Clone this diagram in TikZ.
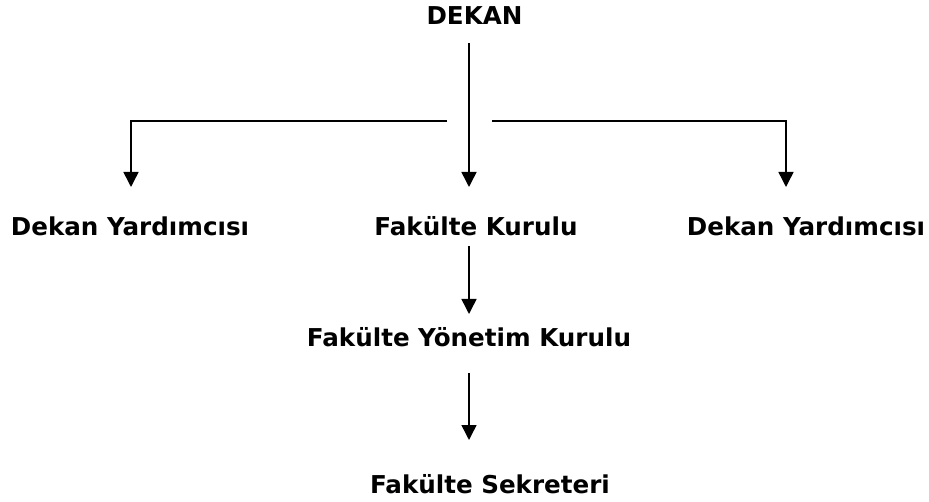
\documentclass[tikz,border=0pt]{standalone}
\usepackage{fontspec}
\setmainfont{DejaVu Sans}
\usetikzlibrary{arrows.meta}
\begin{document}
\begin{tikzpicture}[x=1pt,y=-1pt,
  lbl/.style={anchor=base,inner sep=0pt,font=\bfseries\fontsize{24.6}{28}\selectfont},
  conn/.style={line width=1.5pt},
  arr/.style={conn,-{Triangle[length=15pt,width=15pt]}}]
\useasboundingbox (0,0) rectangle (929,502);
\node[lbl] (dekan) at (474.5,25) {DEKAN};
\node[lbl] (dy1) at (130,236) {Dekan Yardımcısı};
\node[lbl] (fk) at (476,236) {Fakülte Kurulu};
\node[lbl] (dy2) at (806,236) {Dekan Yardımcısı};
\node[lbl] (fyk) at (469,347) {Fakülte Yönetim Kurulu};
\node[lbl] (fs) at (490,493) {Fakülte Sekreteri};
% connector points
\coordinate (c0) at (469,43);
\coordinate (c1) at (469,187);
\coordinate (l0) at (447,121);
\coordinate (l1) at (131,121);
\coordinate (l2) at (131,187);
\coordinate (r0) at (492,121);
\coordinate (r1) at (786,121);
\coordinate (r2) at (786,187);
\coordinate (m0) at (469,246);
\coordinate (m1) at (469,314);
\coordinate (s0) at (469,373);
\coordinate (s1) at (469,440);
\draw[arr] (c0) -- (c1);
\draw[arr] (l0) -- (l1) -- (l2);
\draw[arr] (r0) -- (r1) -- (r2);
\draw[arr] (m0) -- (m1);
\draw[arr] (s0) -- (s1);
\end{tikzpicture}
\end{document}
